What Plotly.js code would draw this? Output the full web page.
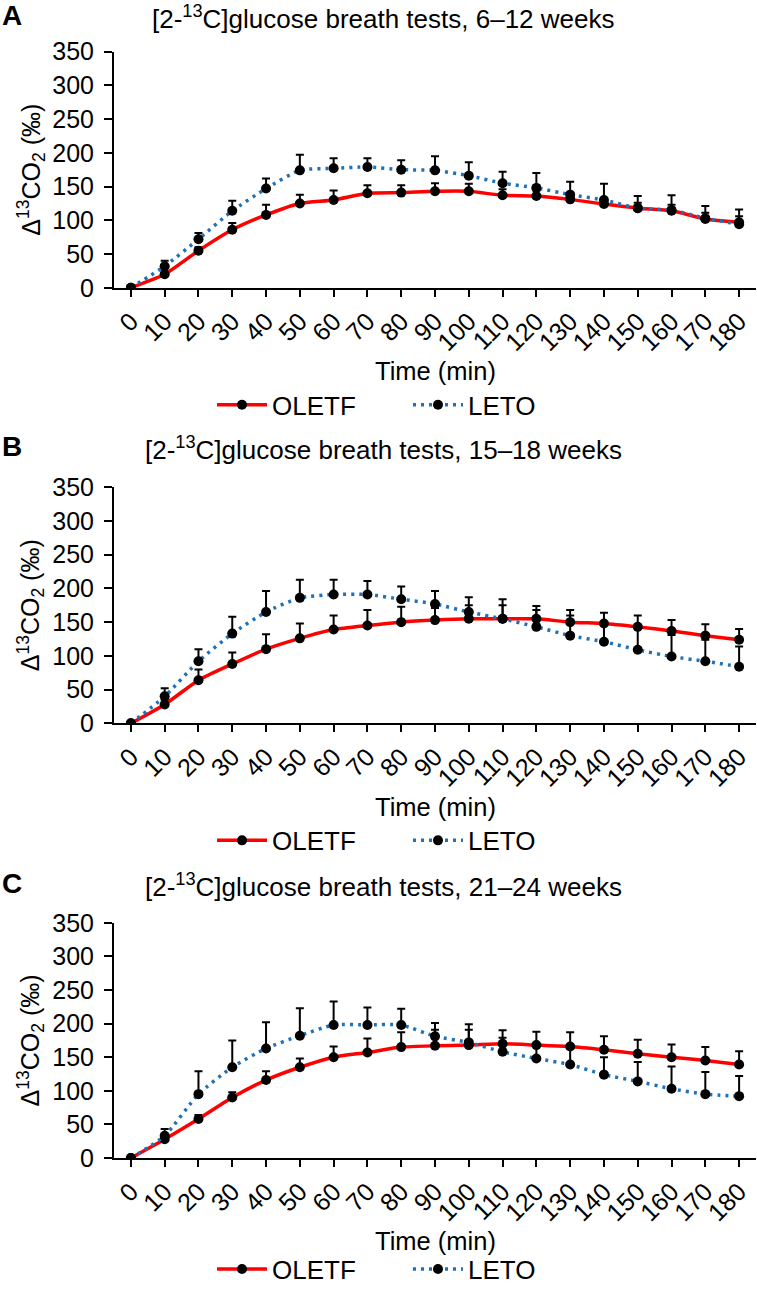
<!DOCTYPE html>
<html>
<head>
<meta charset="utf-8">
<script src="https://cdn.plot.ly/plotly-3.0.1.min.js"></script>
<style>
  body { margin: 0; background: #fff; }
  #chart { width: 757px; height: 1293px; }
</style>
</head>
<body>
<div id="chart"></div>
<script>
// sampling times (min)
var timeMin = [0, 10, 20, 30, 40, 50, 60, 70, 80, 90, 100, 110, 120, 130, 140, 150, 160, 170, 180];

// panel A, 6-12 weeks
var oletfA   = [0, 20, 55, 86, 108, 125, 130, 140, 141, 143, 143, 137, 136, 131, 124, 118, 114, 102, 97];
var oletfAse = [0, 4, 5, 10, 15, 13, 14, 12, 11, 12, 11, 9, 8, 8, 9, 8, 9, 9, 9];
var letoA    = [0, 32, 72, 114, 147, 174, 177, 179, 175, 174, 166, 155, 148, 138, 130, 118, 115, 103, 94];
var letoAse  = [0, 8, 9, 15, 15, 23, 15, 13, 14, 21, 20, 17, 22, 19, 24, 18, 22, 18, 22];

// panel B, 15-18 weeks
var oletfB   = [0, 28, 64, 88, 110, 126, 139, 145, 150, 153, 155, 155, 155, 150, 148, 143, 137, 130, 124];
var oletfBse = [0, 7, 16, 17, 22, 22, 21, 23, 23, 18, 20, 20, 19, 18, 16, 17, 16, 17, 16];
var letoB    = [0, 40, 92, 133, 165, 186, 191, 191, 184, 177, 165, 155, 143, 130, 121, 109, 99, 92, 84];
var letoBse  = [0, 12, 18, 25, 31, 27, 22, 20, 19, 19, 22, 29, 25, 30, 27, 34, 32, 32, 30];

// panel C, 21-24 weeks
var oletfC   = [0, 28, 58, 90, 116, 135, 150, 157, 165, 167, 168, 170, 168, 166, 161, 155, 150, 145, 139];
var oletfCse = [0, 5, 6, 8, 13, 13, 16, 21, 22, 24, 23, 20, 20, 21, 20, 21, 19, 20, 20];
var letoC    = [0, 33, 95, 135, 163, 182, 198, 198, 198, 181, 172, 158, 148, 139, 124, 114, 103, 95, 92];
var letoCse  = [0, 10, 34, 40, 39, 41, 35, 26, 24, 20, 27, 21, 20, 24, 26, 29, 33, 33, 30];

var panelLetters = ["A", "B", "C"];
var panelWeeks = ["6–12 weeks", "15–18 weeks", "21–24 weeks"];
var yTicks = [0, 50, 100, 150, 200, 250, 300, 350];

var oletf = [oletfA, oletfB, oletfC];
var oletfSe = [oletfAse, oletfBse, oletfCse];
var leto = [letoA, letoB, letoC];
var letoSe = [letoAse, letoBse, letoCse];

var FONT = "Liberation Sans, Arial, sans-serif";
var H = 1293, L = 114, R = 756;
// pixel rows of each panel: plot top, plot bottom (zero line), title and legend rows
var rows = [
  {top: 52, bottom: 290, title: 18, legend: 408},
  {top: 491, bottom: 729, title: 452, legend: 847},
  {top: 930, bottom: 1167, title: 892, legend: 1279}
];
function py(p) { return 1 - p / H; }
function px(p) { return (p - L) / (R - L); }

var data = [];
var layout = {
  width: 757, height: 1293,
  margin: {l: L, r: 757 - R, t: 0, b: 0},
  paper_bgcolor: "#fff", plot_bgcolor: "#fff",
  font: {family: FONT, size: 25, color: "#000"},
  annotations: []
};

for (var i = 0; i < 3; i++) {
  var n = i === 0 ? "" : String(i + 1);
  var leg = "legend" + n;
  data.push({
    x: timeMin, y: oletf[i], name: "OLETF", type: "scatter", mode: "lines+markers",
    xaxis: "x" + n, yaxis: "y" + n, legend: leg,
    line: {color: "#ff0000", width: 3.5, shape: "spline", smoothing: 0.6},
    marker: {color: "#000", size: 10},
    error_y: {type: "data", symmetric: false, array: oletfSe[i], arrayminus: timeMin.map(function () { return 0; }),
              color: "#000", thickness: 2, width: 4}
  });
  data.push({
    x: timeMin, y: leto[i], name: "LETO", type: "scatter", mode: "lines+markers",
    xaxis: "x" + n, yaxis: "y" + n, legend: leg,
    line: {color: "#1f72b8", width: 3.5, dash: "3px,5px", shape: "spline", smoothing: 0.6},
    marker: {color: "#000", size: 10},
    error_y: {type: "data", symmetric: false, array: letoSe[i], arrayminus: timeMin.map(function () { return 0; }),
              color: "#000", thickness: 2, width: 4}
  });

  var r = rows[i];
  layout["xaxis" + n] = {
    domain: [0, 1], anchor: "y" + n, range: [-5, 185],
    tickmode: "array", tickvals: timeMin, ticktext: timeMin.map(String), tickangle: -45,
    showline: true, linecolor: "#000", linewidth: 2, ticks: "outside", ticklen: 7, tickwidth: 2,
    tickcolor: "#000", showgrid: false, zeroline: false, fixedrange: true,
    tickfont: {family: FONT, size: 25, color: "#000"}
  };
  layout["yaxis" + n] = {
    domain: [py(r.bottom), py(r.top)], anchor: "x" + n, range: [0, 350],
    tickmode: "array", tickvals: yTicks,
    showline: true, linecolor: "#000", linewidth: 2, ticks: "outside", ticklen: 8, tickwidth: 2,
    tickcolor: "#000", showgrid: false, zeroline: false, fixedrange: true, ticklabelstandoff: 5,
    tickfont: {family: FONT, size: 25, color: "#000"}
  };
  layout[leg] = {
    orientation: "h", x: px(408), xanchor: "center", y: py(r.legend), yanchor: "middle",
    xref: "paper", yref: "paper", font: {family: FONT, size: 26, color: "#000"},
    itemwidth: 50, entrywidth: 131, bgcolor: "rgba(0,0,0,0)"
  };

  layout.annotations.push(
    {text: "<b>" + panelLetters[i] + "</b>", xref: "paper", yref: "paper", x: px(0), y: py(r.title - 2),
     xanchor: "left", yanchor: "middle", showarrow: false, font: {family: FONT, size: 28, color: "#000"}},
    {text: "[2-<sup>13</sup>C]glucose breath tests, " + panelWeeks[i], xref: "paper", yref: "paper",
     x: px(383), y: py(r.title), xanchor: "center", yanchor: "middle", showarrow: false,
     font: {family: FONT, size: 26, color: "#000"}},
    {text: "Δ<sup>13</sup>CO<sub>2</sub> (‰)", xref: "paper", yref: "paper", textangle: -90,
     x: px(31), y: py((r.top + r.bottom) / 2), xanchor: "center", yanchor: "middle", showarrow: false,
     font: {family: FONT, size: 25, color: "#000"}},
    {text: "Time (min)", xref: "paper", yref: "paper", x: 0.5, y: py(r.bottom + 84),
     xanchor: "center", yanchor: "middle", showarrow: false, font: {family: FONT, size: 25.5, color: "#000"}}
  );
}

Plotly.newPlot("chart", data, layout, {staticPlot: true});
</script>
</body>
</html>
